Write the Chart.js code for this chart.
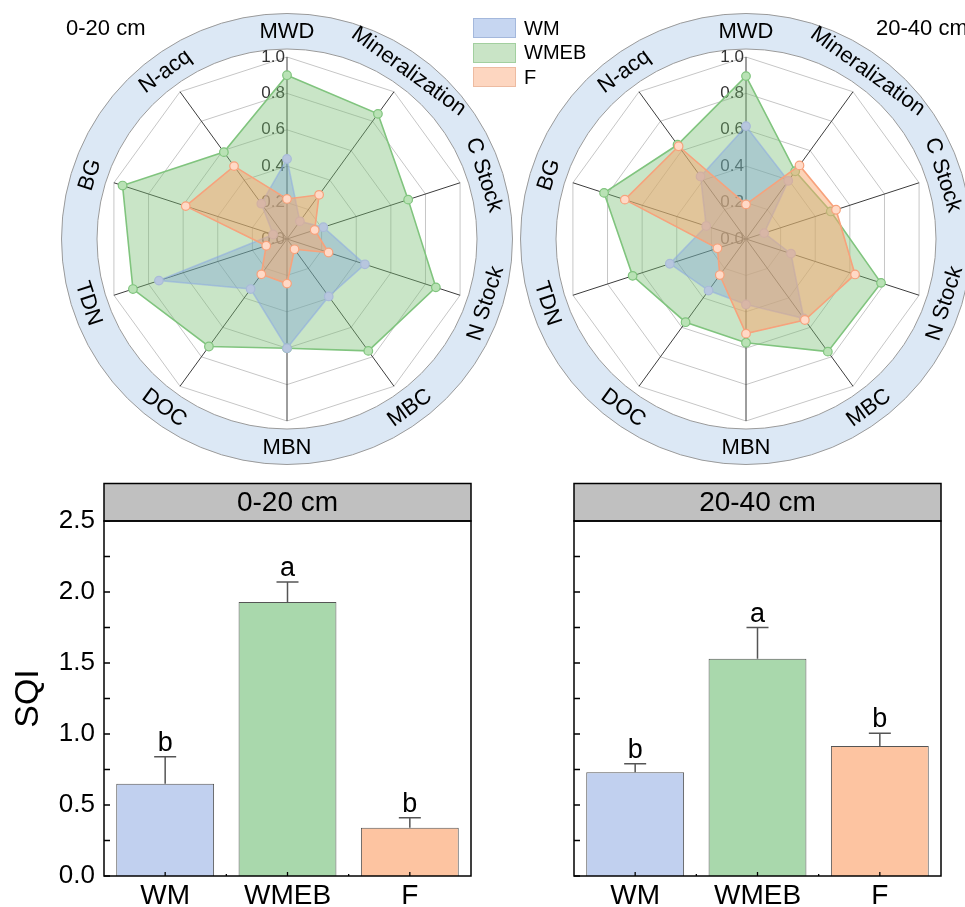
<!DOCTYPE html>
<html>
<head>
<meta charset="utf-8">
<script src="https://cdn.jsdelivr.net/npm/chart.js@4.4.1/dist/chart.umd.min.js"></script>
<style>
  body { margin: 0; background: #fff; }
  #fig { position: relative; width: 965px; height: 907px; overflow: hidden; font-family: "Liberation Sans", Arial, sans-serif; }
  .panel { position: absolute; }
  #legend { position: absolute; left: 473px; top: 16px; z-index: 5; }
  .item { display: flex; align-items: center; height: 24.5px; font-size: 20px; color: #000; }
  .swatch { width: 43px; height: 20px; margin-right: 8px; box-sizing: border-box; border: 1px solid; }
</style>
</head>
<body>
<div id="fig">
  <div class="panel" style="left:0;top:0;width:520px;height:470px"><canvas id="radarTop"></canvas></div>
  <div class="panel" style="left:470px;top:0;width:495px;height:470px"><canvas id="radarSub"></canvas></div>
  <div class="panel" style="left:0;top:470px;width:480px;height:437px"><canvas id="barTop"></canvas></div>
  <div class="panel" style="left:480px;top:470px;width:485px;height:437px"><canvas id="barSub"></canvas></div>
  <div id="legend"></div>
</div>
<script>
const FONT = '"Liberation Sans", Arial, sans-serif';

// radar data
const indicators = ["MWD", "Mineralization", "C Stock", "N Stock", "MBC", "MBN", "DOC", "TDN", "BG", "N-acq"];
const treatments = ["WM", "WMEB", "F"];
const radarTicks = [0, 0.2, 0.4, 0.6, 0.8, 1.0];

const wmTop = [0.44, 0.12, 0.21, 0.45, 0.39, 0.60, 0.34, 0.74, 0.08, 0.24];
const wmebTop = [0.90, 0.85, 0.70, 0.86, 0.76, 0.60, 0.73, 0.89, 0.95, 0.59];
const fTop = [0.22, 0.30, 0.16, 0.24, 0.07, 0.245, 0.24, 0.12, 0.585, 0.495];

const wmSub = [0.62, 0.395, 0.105, 0.26, 0.54, 0.36, 0.35, 0.44, 0.23, 0.425];
const wmebSub = [0.895, 0.46, 0.49, 0.78, 0.765, 0.57, 0.565, 0.655, 0.82, 0.64];
const fSub = [0.19, 0.50, 0.52, 0.63, 0.55, 0.52, 0.245, 0.165, 0.70, 0.63];

// SQI bar data
const sqiTop = [0.65, 1.93, 0.34];
const sqiTopErr = [0.19, 0.14, 0.07];
const sqiTopLetters = ["b", "a", "b"];
const sqiSub = [0.73, 1.53, 0.915];
const sqiSubErr = [0.06, 0.22, 0.09];
const sqiSubLetters = ["b", "a", "b"];
const sqiTicks = [0, 0.25, 0.5, 0.75, 1, 1.25, 1.5, 1.75, 2, 2.25, 2.5];

const colors = {
    WM: { line: "rgba(140,170,225,0.55)", fill: "rgba(110,150,215,0.32)", point: "#b7c6de", pointLine: "#a9bbd8", bar: "#c1d0ef", box: "#c6d6f1", boxLine: "#a4b8dc" },
    WMEB: { line: "#80c47e", fill: "rgba(120,190,115,0.40)", point: "#b9e2b5", pointLine: "#80c47e", bar: "#a9d8ac", box: "#c9e4c6", boxLine: "#a2cf9f" },
    F: { line: "#f7a27c", fill: "rgba(250,165,110,0.50)", point: "#ffd9c6", pointLine: "#f7a27c", bar: "#fdc4a1", box: "#fdd6c0", boxLine: "#edbba1" },
};

const legendEl = document.getElementById("legend");
treatments.forEach((name) => {
    const row = document.createElement("div");
    row.className = "item";
    row.innerHTML = `<span class="swatch" style="background:${colors[name].box};border-color:${colors[name].boxLine}"></span>${name}`;
    legendEl.appendChild(row);
});

const RING_IN = 190;
const RING_OUT = 225.5;
const LABEL_R = 208;

const radarDecor = {
    id: "radarDecor",
    beforeDraw(chart, args, opts) {
        const { ctx } = chart;
        const r = chart.scales.r;
        const cx = r.xCenter, cy = r.yCenter;
        ctx.save();
        ctx.beginPath();
        ctx.arc(cx, cy, RING_OUT, 0, Math.PI * 2);
        ctx.moveTo(cx + RING_IN, cy);
        ctx.arc(cx, cy, RING_IN, 0, Math.PI * 2);
        ctx.fillStyle = "#dce8f5";
        ctx.fill("evenodd");
        ctx.strokeStyle = "#9a9a9a";
        ctx.lineWidth = 1;
        ctx.beginPath();
        ctx.arc(cx, cy, RING_OUT, 0, Math.PI * 2);
        ctx.stroke();
        ctx.beginPath();
        ctx.arc(cx, cy, RING_IN, 0, Math.PI * 2);
        ctx.stroke();

        ctx.fillStyle = "#000";
        ctx.font = `22px ${FONT}`;
        ctx.textAlign = "center";
        ctx.textBaseline = "middle";
        chart.data.labels.forEach((label, i) => {
            const a = r.getIndexAngle(i);
            const lower = a > Math.PI / 2 + 0.01 && a < Math.PI * 1.5 - 0.01;
            ctx.save();
            ctx.translate(cx, cy);
            ctx.rotate(lower ? a - Math.PI : a);
            ctx.fillText(label, 0, lower ? LABEL_R + 1 : -LABEL_R + 1);
            ctx.restore();
        });

        ctx.textAlign = "left";
        ctx.fillText(opts.title, opts.titleX, 29);
        ctx.restore();
    },
    beforeDatasetsDraw(chart) {
        const { ctx } = chart;
        const r = chart.scales.r;
        ctx.save();
        ctx.fillStyle = "#333";
        ctx.font = `17px ${FONT}`;
        ctx.textAlign = "right";
        ctx.textBaseline = "middle";
        radarTicks.forEach((v) => {
            const d = r.getDistanceFromCenterForValue(v);
            ctx.fillText(v.toFixed(1), r.xCenter - 2, r.yCenter - d);
        });
        ctx.restore();
    },
};

function radarSet(name, data, order) {
    const c = colors[name];
    return {
        label: name,
        data,
        order,
        borderColor: c.line,
        backgroundColor: c.fill,
        borderWidth: 1.6,
        fill: true,
        pointRadius: 4.3,
        pointBorderWidth: 1.2,
        pointBackgroundColor: c.point,
        pointBorderColor: c.pointLine,
    };
}

function makeRadar(id, wm, wmeb, f, title, titleX, padding) {
    return new Chart(document.getElementById(id), {
        type: "radar",
        data: {
            labels: indicators,
            datasets: [radarSet("WM", wm, 1), radarSet("WMEB", wmeb, 2), radarSet("F", f, 0)],
        },
        options: {
            responsive: true,
            maintainAspectRatio: false,
            animation: false,
            layout: { padding },
            plugins: {
                legend: { display: false },
                tooltip: { enabled: false },
                radarDecor: { title, titleX },
            },
            elements: { line: { tension: 0 } },
            scales: {
                r: {
                    min: 0,
                    max: 1,
                    ticks: { stepSize: 0.2, display: false },
                    pointLabels: { display: false },
                    grid: { color: "#c6c6c6", lineWidth: 1 },
                    angleLines: { color: "#3c3c3c", lineWidth: 1 },
                },
            },
        },
        plugins: [radarDecor],
    });
}

makeRadar("radarTop", wmTop, wmebTop, fTop, "0-20 cm", 66, { left: 105, top: 57, right: 50, bottom: 48 });
makeRadar("radarSub", wmSub, wmebSub, fSub, "20-40 cm", 406, { left: 93.5, top: 57, right: 36.5, bottom: 48 });

const barDecor = {
    id: "barDecor",
    afterDraw(chart, args, opts) {
        const { ctx, chartArea: a } = chart;
        const x = chart.scales.x, y = chart.scales.y;
        ctx.save();

        // error bars and letters
        ctx.strokeStyle = "#555";
        ctx.lineWidth = 1.5;
        ctx.fillStyle = "#000";
        ctx.font = `27px ${FONT}`;
        ctx.textAlign = "center";
        ctx.textBaseline = "alphabetic";
        chart.data.datasets[0].data.forEach((v, i) => {
            const px = x.getPixelForValue(i);
            const top = y.getPixelForValue(v);
            const errTop = y.getPixelForValue(v + opts.errors[i]);
            ctx.beginPath();
            ctx.moveTo(px, top);
            ctx.lineTo(px, errTop);
            ctx.moveTo(px - 11, errTop);
            ctx.lineTo(px + 11, errTop);
            ctx.stroke();
            ctx.fillText(opts.letters[i], px, errTop - 6);
        });

        // inward ticks
        ctx.strokeStyle = "#000";
        ctx.lineWidth = 1.3;
        ctx.beginPath();
        sqiTicks.forEach((v) => {
            const py = y.getPixelForValue(v);
            ctx.moveTo(a.left, py);
            ctx.lineTo(a.left + 6, py);
        });
        chart.data.labels.forEach((l, i) => {
            const px = x.getPixelForValue(i);
            ctx.moveTo(px, a.bottom);
            ctx.lineTo(px, a.bottom - 4);
            if (i > 0) {
                const mid = (px + x.getPixelForValue(i - 1)) / 2;
                ctx.moveTo(mid, a.bottom);
                ctx.lineTo(mid, a.bottom - 2);
            }
        });
        ctx.stroke();

        // header strip
        const hh = 37.5;
        ctx.fillStyle = "#c0c0c0";
        ctx.fillRect(a.left, a.top - hh, a.width, hh);
        ctx.lineWidth = 1.5;
        ctx.strokeStyle = "#000";
        ctx.strokeRect(a.left, a.top - hh, a.width, hh);
        ctx.strokeRect(a.left, a.top, a.width, a.height);
        ctx.fillStyle = "#000";
        ctx.font = `28px ${FONT}`;
        ctx.textBaseline = "middle";
        ctx.fillText(opts.header, (a.left + a.right) / 2, a.top - hh / 2 + 1);
        ctx.restore();
    },
};

function makeBar(id, values, errors, letters, header, showY, yWidth, padRight) {
    return new Chart(document.getElementById(id), {
        type: "bar",
        data: {
            labels: treatments,
            datasets: [{
                data: values,
                backgroundColor: treatments.map((t) => colors[t].bar),
                borderColor: "#555",
                borderWidth: 1,
                categoryPercentage: 0.8,
                barPercentage: 1,
            }],
        },
        options: {
            responsive: true,
            maintainAspectRatio: false,
            animation: false,
            layout: { padding: { left: 0, top: 51, right: padRight, bottom: 0 } },
            plugins: {
                legend: { display: false },
                tooltip: { enabled: false },
                barDecor: { errors, letters, header },
            },
            scales: {
                x: {
                    grid: { display: false, drawTicks: false },
                    border: { display: false },
                    ticks: { color: "#000", font: { size: 28, family: FONT }, padding: 3 },
                    afterFit: (s) => { s.height = 31; },
                },
                y: {
                    min: 0,
                    max: 2.5,
                    grid: { display: false, drawTicks: false },
                    border: { display: false },
                    ticks: {
                        display: showY,
                        stepSize: 0.5,
                        color: "#000",
                        font: { size: 26, family: FONT },
                        padding: 9,
                        callback: (v) => Number(v).toFixed(1),
                    },
                    title: {
                        display: showY,
                        text: "SQI",
                        color: "#000",
                        font: { size: 34, family: FONT },
                        padding: { top: 8, bottom: 0 },
                    },
                    afterFit: (s) => { s.width = yWidth; },
                },
            },
        },
        plugins: [barDecor],
    });
}

makeBar("barTop", sqiTop, sqiTopErr, sqiTopLetters, "0-20 cm", true, 104, 9);
makeBar("barSub", sqiSub, sqiSubErr, sqiSubLetters, "20-40 cm", false, 94, 24);
</script>
</body>
</html>
